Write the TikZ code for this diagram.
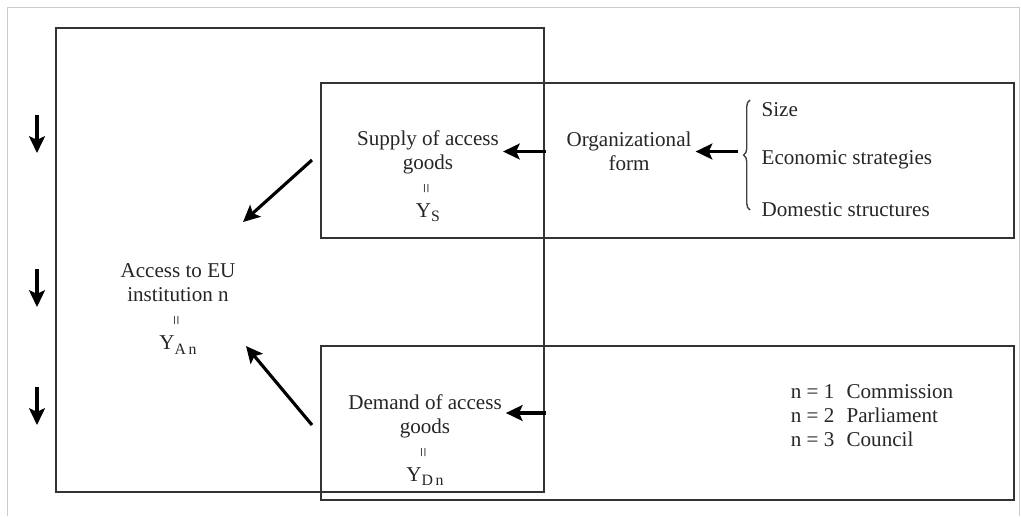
\documentclass[tikz,border=0pt]{standalone}
\usepackage{fontspec}
\setmainfont{Liberation Serif}
\usepackage{xcolor}
\usepackage{tikz}
\usetikzlibrary{arrows.meta,decorations.pathreplacing}

\newcommand{\vbar}{\rotatebox{90}{\fontsize{10}{12}\selectfont =}}
\newcommand{\ysub}[1]{Y\raisebox{-0.45ex}{\fontsize{9}{11}\selectfont #1}}

\begin{document}
\begin{tikzpicture}[>={Stealth[length=9.5pt,width=9pt,inset=2pt]},
  font=\fontsize{12}{13.7}\selectfont,line width=0.7pt,
  box/.style={draw=black!80},
  arr/.style={->,line width=1.8pt},
  txt/.style={align=center,text=black!85,inner sep=2pt}]
  \useasboundingbox (0,0) rectangle (20.42,10.32);
  \draw[gray!40,line width=0.5pt] (0.14,0) -- (0.14,10.18) -- (20.38,10.18) -- (20.38,0);
  % frames
  \draw[box] (1.12,0.48) rectangle (10.88,9.76);
  \draw[box] (6.42,5.56) rectangle (20.28,8.66);
  \draw[box] (6.42,0.32) rectangle (20.28,3.40);
  % upper row
  \node[txt] (supply) at (8.56,6.80) {Supply of access\\goods\\\vbar\\\ysub{S}};
  \node[txt] (orgform) at (12.58,7.29) {Organizational\\form};
  \node[txt,anchor=west] (size) at (15.15,8.12) {Size};
  \node[txt,anchor=west] (econ) at (15.15,7.12) {Economic strategies};
  \node[txt,anchor=west] (dom) at (15.15,6.12) {Domestic structures};
  \draw[black!75,line width=0.8pt,decorate,decoration={brace,amplitude=0.13cm}]
    (15.0,6.12) -- (15.0,8.32);
  \coordinate (btail) at (14.76,7.29);
  \coordinate (stail) at (10.92,7.29);
  \draw[arr] (btail) -- (orgform.east);
  \draw[arr] (stail) -- (stail -| supply.east);
  % access and demand
  \node[txt] (access) at (3.56,4.14) {Access to EU\\institution n\\\vbar\\\ysub{A\,n}};
  \node[txt] (demand) at (8.50,1.52) {Demand of access\\goods\\\vbar\\\ysub{D\,n}};
  \coordinate (dtail) at (10.92,2.06);
  \draw[arr] (dtail) -- (dtail -| demand.east);
  \coordinate (su) at (6.24,7.12);
  \coordinate (au) at (4.86,5.88);
  \coordinate (sd) at (6.24,1.82);
  \coordinate (ad) at (4.92,3.40);
  \draw[arr] (su) -- (au);
  \draw[arr] (sd) -- (ad);
  % legend
  \node[txt] (legend) at (17.44,1.97) {\begin{tabular}{@{}l@{\hspace{7pt}}l@{}}
    n = 1 & Commission\\ n = 2 & Parliament\\ n = 3 & Council\end{tabular}};
  % time arrows
  \foreach \y in {8.02,4.94,2.58}
    \draw[arr] (0.74,\y) -- ++(0,-0.76);
\end{tikzpicture}
\end{document}
